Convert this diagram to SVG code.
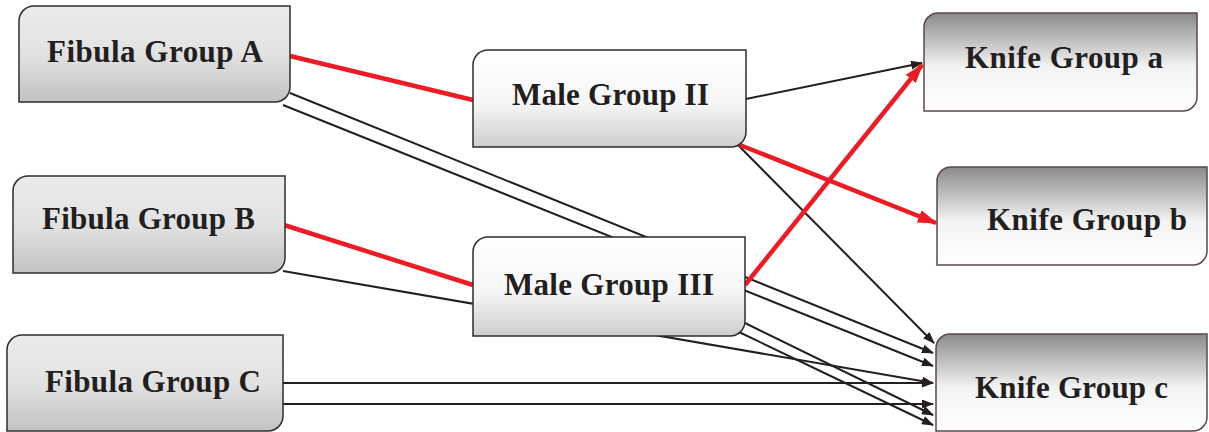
<svg xmlns="http://www.w3.org/2000/svg" width="1209" height="432" viewBox="0 0 1209 432">
<style>
.lbl{font-family:"Liberation Serif","Times New Roman",serif;font-weight:bold;font-size:31px;fill:#231f20;text-anchor:middle}
.fib{fill:url(#gFib);stroke:#2e2e2e;stroke-width:1.5}
.male{fill:url(#gMale);stroke:#2e2e2e;stroke-width:1.5}
.knife{fill:url(#gKnife);stroke:#5e4848;stroke-width:1.5}
.blk{stroke:#231f20;stroke-width:2;fill:none}
.red{stroke:#ed1c24;stroke-width:4.5;fill:none}
</style>
<defs>
<linearGradient id="gFib" x1="0" y1="0" x2="0" y2="1">
<stop offset="0" stop-color="#ebebeb"/><stop offset="0.5" stop-color="#e2e2e2"/><stop offset="1" stop-color="#c2c2c2"/>
</linearGradient>
<linearGradient id="gMale" x1="0" y1="0" x2="0" y2="1">
<stop offset="0" stop-color="#ffffff"/><stop offset="0.55" stop-color="#f6f6f6"/><stop offset="1" stop-color="#cdcdcd"/>
</linearGradient>
<linearGradient id="gKnife" x1="0" y1="0" x2="0" y2="1">
<stop offset="0" stop-color="#8a8a8a"/><stop offset="0.55" stop-color="#f3f3f3"/><stop offset="1" stop-color="#ffffff"/>
</linearGradient>
<marker id="ab" markerUnits="userSpaceOnUse" markerWidth="12" markerHeight="9" refX="11" refY="4.5" orient="auto">
<path d="M0,0 L12,4.5 L0,9 z" fill="#231f20"/>
</marker>
<marker id="ar" markerUnits="userSpaceOnUse" markerWidth="20" markerHeight="13" refX="18" refY="6.5" orient="auto">
<path d="M0,0 L20,6.5 L0,13 z" fill="#ed1c24"/>
</marker>
</defs>
<g id="connectors">
<line class="blk" x1="746" y1="99" x2="922" y2="63" marker-end="url(#ab)"/>
<line class="blk" x1="738" y1="145" x2="934" y2="343" marker-end="url(#ab)"/>
<line class="blk" x1="290" y1="93" x2="933" y2="353" marker-end="url(#ab)"/>
<line class="blk" x1="283" y1="105" x2="933" y2="366" marker-end="url(#ab)"/>
<line class="blk" x1="283" y1="271" x2="933" y2="383" marker-end="url(#ab)"/>
<line class="blk" x1="283" y1="383" x2="933" y2="383" marker-end="url(#ab)"/>
<line class="blk" x1="283" y1="404" x2="933" y2="404" marker-end="url(#ab)"/>
<line class="blk" x1="745" y1="323" x2="933" y2="415" marker-end="url(#ab)"/>
<line class="blk" x1="739" y1="332" x2="933" y2="425" marker-end="url(#ab)"/>
<line class="red" x1="290" y1="56" x2="473" y2="100"/>
<line class="red" x1="284" y1="225" x2="473" y2="285"/>
<line class="red" x1="745" y1="285" x2="922" y2="65" marker-end="url(#ar)"/>
<line class="red" x1="740" y1="145" x2="936" y2="223" marker-end="url(#ar)"/>
</g>
<g id="fibulaA">
<path class="fib" d="M19,102 V21 A15,15 0 0 1 34,6 H290 V87 A15,15 0 0 1 275,102 Z"/>
<text class="lbl" x="155" y="62" textLength="216" lengthAdjust="spacing">Fibula Group A</text>
</g>
<g id="fibulaB">
<path class="fib" d="M13,273 V191 A15,15 0 0 1 28,176 H285 V258 A15,15 0 0 1 270,273 Z"/>
<text class="lbl" x="148.5" y="229" textLength="213" lengthAdjust="spacing">Fibula Group B</text>
</g>
<g id="fibulaC">
<path class="fib" d="M7,431 V350 A15,15 0 0 1 22,335 H283 V416 A15,15 0 0 1 268,431 Z"/>
<text class="lbl" x="153" y="392" textLength="216" lengthAdjust="spacing">Fibula Group C</text>
</g>
<g id="maleII">
<path class="male" d="M473,147 V65 A15,15 0 0 1 488,50 H746 V132 A15,15 0 0 1 731,147 Z"/>
<text class="lbl" x="610.5" y="105" textLength="197" lengthAdjust="spacing">Male Group II</text>
</g>
<g id="maleIII">
<path class="male" d="M473,336 V252 A15,15 0 0 1 488,237 H745 V321 A15,15 0 0 1 730,336 Z"/>
<text class="lbl" x="609" y="295" textLength="210" lengthAdjust="spacing">Male Group III</text>
</g>
<g id="knifeA">
<path class="knife" d="M924,111 V27 A14,14 0 0 1 938,13 H1197 V97 A14,14 0 0 1 1183,111 Z"/>
<text class="lbl" x="1064" y="68" textLength="198" lengthAdjust="spacing">Knife Group a</text>
</g>
<g id="knifeB">
<path class="knife" d="M937,265 V181 A14,14 0 0 1 951,167 H1207 V251 A14,14 0 0 1 1193,265 Z"/>
<text class="lbl" x="1087" y="230" textLength="200" lengthAdjust="spacing">Knife Group b</text>
</g>
<g id="knifeC">
<path class="knife" d="M936,431 V348 A14,14 0 0 1 950,334 H1207 V417 A14,14 0 0 1 1193,431 Z"/>
<text class="lbl" x="1071.5" y="398" textLength="193" lengthAdjust="spacing">Knife Group c</text>
</g>
</svg>
